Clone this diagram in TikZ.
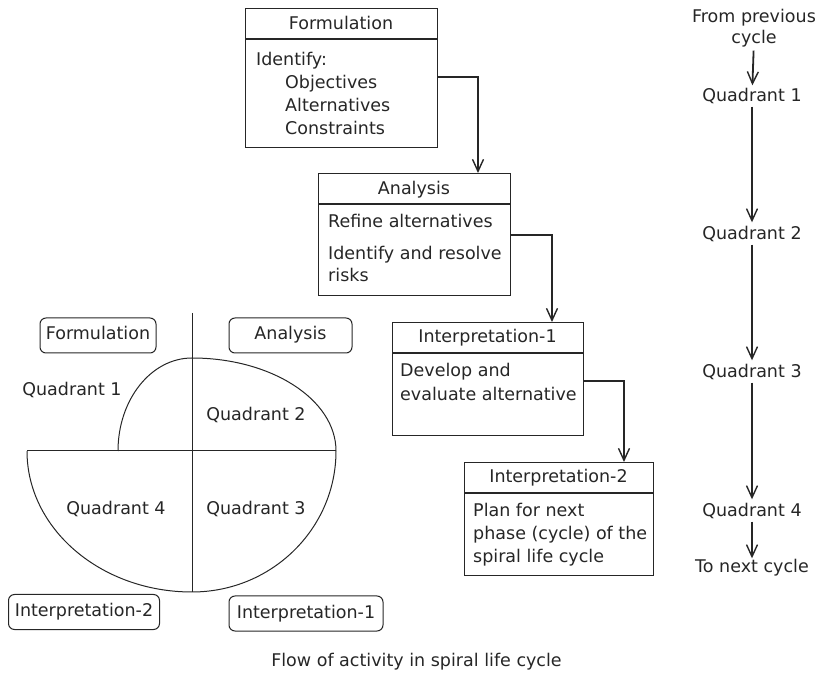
\documentclass[tikz,border=0pt]{standalone}
\usepackage{fontspec}
\setmainfont{DejaVu Sans}
\usetikzlibrary{arrows.meta}
\begin{document}
\begin{tikzpicture}[x=1pt,y=1pt,
  every node/.style={font=\fontsize{17.5}{21}\selectfont, text=black!85,
    inner sep=0pt, text height=13pt, text depth=4pt},
  stagebox/.style={draw=black!85, line width=1.2pt, minimum width=192pt, anchor=north west},
  divider/.style={draw=black!85, line width=1.1pt},
  linetext/.style={anchor=west},
  tag/.style={draw=black!85, line width=1pt, rounded corners=6pt, minimum height=35pt},
  spiral/.style={draw=black!85, line width=1pt},
  flow/.style={draw=black!85, line width=1.8pt,
    -{Straight Barb[length=12pt,width=11pt,line width=1.4pt]}},
  qlabel/.style={inner sep=1pt}
]
\useasboundingbox (0,0) rectangle (815,673);

% ---------- stage boxes ----------
\node[stagebox, minimum height=139pt] (formbox) at (245,665) {};
\draw[divider] (formbox.west |- 0,634) -- (formbox.east |- 0,634);
\node (formtitle) at (341,648) {Formulation};
\node[linetext] (formident) at (256,612) {Identify:};
\node[linetext] (formobj) at (285,589) {Objectives};
\node[linetext] (formalt) at (285,566) {Alternatives};
\node[linetext] (formcon) at (285,543) {Constraints};

\node[stagebox, minimum height=122pt] (anabox) at (318,500) {};
\draw[divider] (anabox.west |- 0,469) -- (anabox.east |- 0,469);
\node (anatitle) at (414,483) {Analysis};
\node[linetext] (anaref) at (328,450) {Refine alternatives};
\node[linetext] (anaid) at (328,418) {Identify and resolve};
\node[linetext] (anarisk) at (328,396) {risks};

\node[stagebox, minimum width=191pt, minimum height=113pt] (intonebox) at (392,351) {};
\draw[divider] (intonebox.west |- 0,320) -- (intonebox.east |- 0,320);
\node (intonetitle) at (487.5,335) {Interpretation-1};
\node[linetext] (intonedev) at (400,301) {Develop and};
\node[linetext] (intoneeval) at (400,277) {evaluate alternative};

\node[stagebox, minimum width=189pt, minimum height=113pt] (inttwobox) at (464,211) {};
\draw[divider] (inttwobox.west |- 0,180) -- (inttwobox.east |- 0,180);
\node (inttwotitle) at (558.5,195) {Interpretation-2};
\node[linetext] (inttwoplan) at (473,161) {Plan for next};
\node[linetext] (inttwophase) at (473,138) {phase (cycle) of the};
\node[linetext] (inttwospiral) at (473,115) {spiral life cycle};

% ---------- connectors between stages ----------
\coordinate (bendfa) at (478,596);
\coordinate (bendai) at (552,438);
\coordinate (bendii) at (624,292);
\draw[flow] (formbox.east |- bendfa) -- (bendfa) -- (bendfa |- anabox.north);
\draw[flow] (anabox.east |- bendai) -- (bendai) -- (bendai |- intonebox.north);
\draw[flow] (intonebox.east |- bendii) -- (bendii) -- (bendii |- inttwobox.north);

% ---------- spiral with quadrants ----------
\coordinate (axtop) at (192,360);
\coordinate (axbottom) at (192,81);
\coordinate (axleft) at (27,222);
\coordinate (axright) at (336,222);
\coordinate (spstart) at (118,222);
\draw[spiral] (axtop) -- (axbottom);
\draw[spiral] (axleft) -- (axright);
\draw[spiral] (spstart)
  arc[start angle=180, end angle=90, x radius=74pt, y radius=93pt]
  arc[start angle=90, end angle=0, x radius=144pt, y radius=93pt]
  arc[start angle=0, end angle=-90, x radius=144pt, y radius=141pt]
  arc[start angle=-90, end angle=-180, x radius=165pt, y radius=141pt];

\node (quadone) at (72,282) {Quadrant 1};
\node (quadtwo) at (256,257) {Quadrant 2};
\node (quadfour) at (116,163) {Quadrant 4};
\node (quadthree) at (256,163) {Quadrant 3};

\node[tag, minimum width=116pt] (tagform) at (98,337.5) {Formulation};
\node[tag, minimum width=123pt] (tagana) at (290.5,337.5) {Analysis};
\node[tag, minimum width=151pt] (taginttwo) at (84,61) {Interpretation-2};
\node[tag, minimum width=154pt] (tagintone) at (306,59.5) {Interpretation-1};

% ---------- cycle sequence ----------
\node[qlabel] (prevtop) at (754,655) {From previous};
\node[qlabel] (prevcycle) at (754,634) {cycle};
\node[qlabel] (seqone) at (752,576) {Quadrant 1};
\node[qlabel] (seqtwo) at (752,438) {Quadrant 2};
\node[qlabel] (seqthree) at (752,300) {Quadrant 3};
\node[qlabel] (seqfour) at (752,161) {Quadrant 4};
\node[qlabel] (nextcycle) at (752,105) {To next cycle};
\draw[flow, shorten <=2pt, shorten >=2pt] (prevcycle) -- (seqone);
\draw[flow, shorten >=3pt] (seqone) -- (seqtwo);
\draw[flow, shorten >=3pt] (seqtwo) -- (seqthree);
\draw[flow, shorten >=3pt] (seqthree) -- (seqfour);
\draw[flow] (seqfour) -- (nextcycle);

% ---------- caption ----------
\node (caption) at (416.5,11) {Flow of activity in spiral life cycle};
\end{tikzpicture}
\end{document}
